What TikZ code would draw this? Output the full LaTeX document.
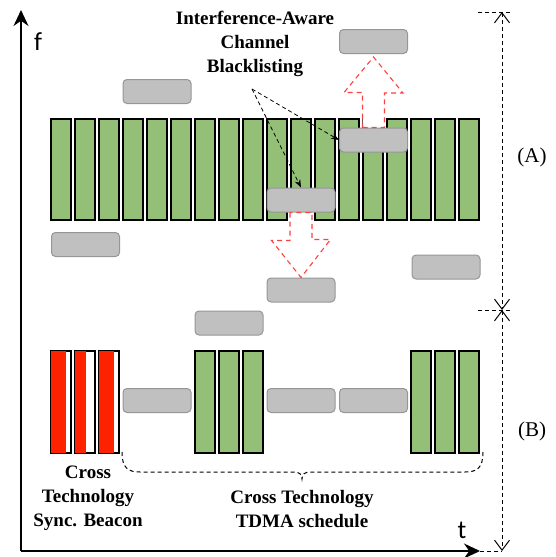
\documentclass[tikz,border=0pt]{standalone}
\usepackage{fontspec}
\setmainfont{Liberation Serif}
\newfontfamily\axisfont{Carlito}
\usetikzlibrary{arrows.meta}

\definecolor{barGreen}{RGB}{147,191,119}
\definecolor{slotGray}{RGB}{192,192,192}
\definecolor{slotEdge}{RGB}{150,150,150}
\definecolor{beaconRed}{RGB}{255,34,0}

\tikzset{
  gbar/.style={draw, line width=1.2pt, fill=barGreen, minimum width=20pt, minimum height=101pt, inner sep=0pt},
  rbar/.style={draw, line width=1.2pt, fill=white, minimum width=20pt, minimum height=102pt, inner sep=0pt},
  slot/.style={draw=slotEdge, line width=1pt, fill=slotGray, rounded corners=4pt, minimum width=68pt, minimum height=24pt, inner sep=0pt},
  hollow/.style={draw=red!75, line width=1.1pt, dash pattern=on 5pt off 4pt, fill=white},
  pointer/.style={line width=0.8pt, dash pattern=on 4pt off 3pt, -{Stealth[length=8pt,width=6pt]}},
  axis/.style={line width=1.4pt, -{Stealth[length=16pt,width=15pt]}},
  dim/.style={line width=1pt, dash pattern=on 4pt off 3pt},
  dimtip/.style={{Straight Barb[length=10pt,width=15pt]}-{Straight Barb[length=10pt,width=15pt]}},
  lbl/.style={font=\fontsize{19}{24}\selectfont\bfseries, align=center},
  part/.style={font=\fontsize{21}{21}\selectfont},
}

\begin{document}
\begin{tikzpicture}[x=1pt,y=-1pt]
\useasboundingbox (0,0) rectangle (555,557);

% axes
\coordinate (o) at (21,551);
\coordinate (fend) at (21,10);
\coordinate (tend) at (480,551);
\draw[axis] (o) -- (fend);
\draw[axis] (o) -- (tend);
\node[font=\axisfont\fontsize{26}{26}\selectfont] (f) at (38,42) {f};
\node[font=\axisfont\fontsize{26}{26}\selectfont] (t) at (462,530) {t};

% (A) channel hopping bars
\foreach \i in {1,...,18}
  \node[gbar] (a\i) at ({61+24*(\i-1)},169.5) {};

% (B) beacon and schedule bars
\foreach \i/\x/\w in {1/61/6,2/85/10,3/109/6} {
  \node[rbar] (r\i) at (\x,402) {};
  \fill[beaconRed] (r\i.north west) rectangle ([xshift=-\w]r\i.south east);
  \draw[line width=1.2pt] (r\i.north west) rectangle (r\i.south east);
}
\foreach \i/\x in {1/205,2/229,3/253,4/421,5/445,6/469}
  \node[gbar, minimum height=102pt] (g\i) at (\x,402) {};

% interfering slots
\node[slot] (b1) at (157,91.5) {};
\node[slot] (b2) at (85.5,244.5) {};
\node[slot] (b3) at (373.5,41.5) {};
\node[slot] (b4) at (373.5,140) {};
\node[slot] (b5) at (301,200) {};
\node[slot] (b6) at (301,290) {};
\node[slot] (b7) at (446,267) {};
\node[slot] (b8) at (229,323) {};
\node[slot] (c1) at (157,400.5) {};
\node[slot] (c2) at (301,400.5) {};
\node[slot] (c3) at (373.5,400.5) {};

% blacklisting moves
\draw[hollow] ([xshift=-11]b4.north) -- ++(0,-35) -- ++(-18.5,0) -- ([yshift=-3]b3.south)
  -- ++(29.5,36) -- ++(-18.5,0) -- ([xshift=11]b4.north) -- cycle;
\draw[hollow] ([xshift=-11]b5.south) -- ++(0,28) -- ++(-18.5,0) -- (b6.north)
  -- ++(29.5,-38) -- ++(-18.5,0) -- ([xshift=11]b5.south) -- cycle;

\node[lbl] (blk) at (255,44) {Interference-Aware\\Channel\\Blacklisting};
\coordinate (blkfoot) at (252,89);
\draw[pointer] (blkfoot) -- (b4.west);
\draw[pointer] (blkfoot) -- (b5.north);

% dimension lines
\coordinate (dtop) at (502,12);
\coordinate (dmid) at (502,310);
\coordinate (dbot) at (502,551);
\draw[dim, dimtip] (dtop) -- (dmid);
\draw[dim, dimtip] (dmid) -- (dbot);
\draw[dim] ([xshift=-24]dtop) -- ([xshift=8]dtop);
\draw[dim] ([xshift=-24]dmid) -- ([xshift=8]dmid);
\draw[dim] (tend) -- (dbot);
\node[part] (pa) at (532,157) {(A)};
\node[part] (pb) at (532,431) {(B)};

% schedule brace
\coordinate (bl) at (122,452);
\coordinate (br) at (483,452);
\draw[dim] (bl) .. controls (122,468) and (128,472) .. (140,472) -- (294,472)
  .. controls (299,472) and (302,474) .. (302,479)
  .. controls (302,474) and (305,472) .. (310,472) -- (465,472)
  .. controls (477,472) and (483,468) .. (br);

\node[lbl] (sync) at (88,498) {Cross\\Technology\\Sync. Beacon};
\node[lbl] (tdma) at (302,509) {Cross Technology\\TDMA schedule};
\end{tikzpicture}
\end{document}
